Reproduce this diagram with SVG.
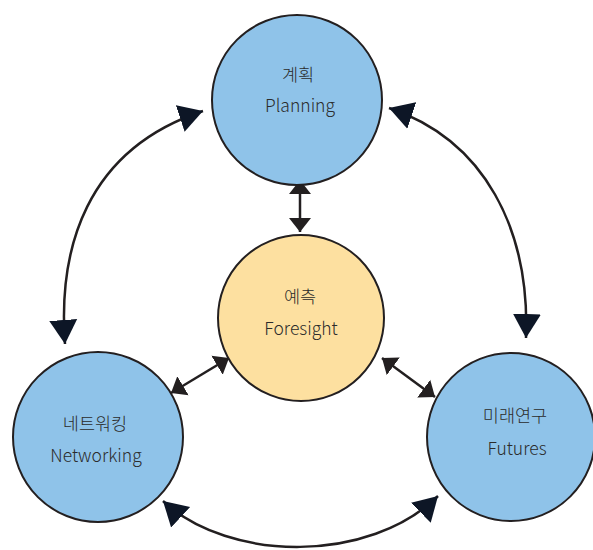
<svg xmlns="http://www.w3.org/2000/svg" width="593" height="550" viewBox="0 0 593 550">
<style>
.blue{fill:#8fc3e9;stroke:#231f20;stroke-width:2}
.yellow{fill:#fde0a0;stroke:#231f20;stroke-width:2}
.t{font-family:"Noto Sans CJK KR","Noto Sans",sans-serif;font-size:17.5px;font-weight:300;fill:#2b2b2b;text-anchor:middle}
.con{fill:none;stroke:#231f20;stroke-width:2.5}
</style>
<defs>
<marker id="big" markerUnits="userSpaceOnUse" markerWidth="26" markerHeight="30" viewBox="0 -15 26 30" refX="24" refY="0" orient="auto-start-reverse">
<path d="M0,-14 L24,0 L0,14 Z" fill="#0d1626"/>
</marker>
<marker id="small" markerUnits="userSpaceOnUse" markerWidth="16" markerHeight="24" viewBox="0 -12 16 24" refX="14" refY="0" orient="auto-start-reverse">
<path d="M0,-11 L14,0 L0,11 Z" fill="#231f20"/>
</marker>
</defs>
<g id="connectors">
<path class="con" d="M65,344 C58,250 85,150 203,111" marker-start="url(#big)" marker-end="url(#big)"/>
<path class="con" d="M389,108 C485,140 530,230 526,338" marker-start="url(#big)" marker-end="url(#big)"/>
<path class="con" d="M163,501 C230,563 370,563 438,496" marker-start="url(#big)" marker-end="url(#big)"/>
<path class="con" d="M300,180 L300,232" marker-start="url(#small)" marker-end="url(#small)"/>
<path class="con" d="M229,358 L171,393" marker-start="url(#small)" marker-end="url(#small)"/>
<path class="con" d="M382,358 L435,397" marker-start="url(#small)" marker-end="url(#small)"/>
</g>
<g id="planning">
<circle class="blue" cx="297" cy="100" r="85"/>
<text class="t" x="298" y="81">계획</text>
<text class="t" x="300" y="112">Planning</text>
</g>
<g id="foresight">
<circle class="yellow" cx="301" cy="318" r="83"/>
<text class="t" x="300" y="303">예측</text>
<text class="t" x="301" y="335">Foresight</text>
</g>
<g id="networking">
<circle class="blue" cx="98" cy="437" r="85"/>
<text class="t" x="95" y="430">네트워킹</text>
<text class="t" x="96" y="462">Networking</text>
</g>
<g id="futures">
<circle class="blue" cx="511" cy="437" r="84"/>
<text class="t" x="515" y="422">미래연구</text>
<text class="t" x="517" y="455">Futures</text>
</g>
</svg>
